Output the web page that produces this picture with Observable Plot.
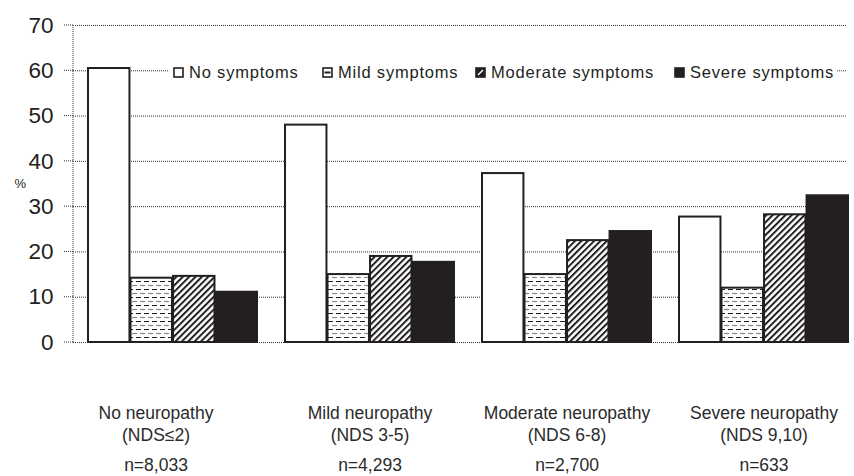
<!DOCTYPE html>
<html>
<head>
<meta charset="utf-8">
<script src="https://cdn.jsdelivr.net/npm/d3@7"></script>
<script src="https://cdn.jsdelivr.net/npm/@observablehq/plot@0.6"></script>
<style>
  html, body { margin: 0; padding: 0; background: #fff; }
  #wrap { position: relative; width: 854px; height: 476px; font-family: "Liberation Sans", Arial, sans-serif; color: #231f20; }
  #legend { position: absolute; left: 168px; top: 61px; width: 668px; height: 22px; background: #fff;
            font-size: 16.5px; letter-spacing: 0.8px; white-space: nowrap; }
  #legend .item { position: absolute; top: 0; height: 22px; display: flex; align-items: center; }
  #legend svg { margin-right: 5px; }
</style>
</head>
<body>
<svg width="0" height="0" style="position:absolute">
  <defs>
    <pattern id="mildPat" width="8" height="8" patternUnits="userSpaceOnUse">
      <rect width="8" height="8" fill="#fff"/>
      <line x1="0" y1="1.5" x2="5" y2="1.5" stroke="#231f20" stroke-width="1"/>
      <line x1="4" y1="5.5" x2="9" y2="5.5" stroke="#8a8a8a" stroke-width="1.2"/>
      <line x1="-4" y1="5.5" x2="1" y2="5.5" stroke="#8a8a8a" stroke-width="1.2"/>
    </pattern>
    <pattern id="hatchPat" width="4.5" height="4.5" patternUnits="userSpaceOnUse" patternTransform="rotate(45)">
      <rect width="4.5" height="4.5" fill="#fff"/>
      <line x1="1" y1="-1" x2="1" y2="6" stroke="#231f20" stroke-width="2"/>
    </pattern>
  </defs>
</svg>
<div id="wrap">
  <div id="chart"></div>
  <div id="legend"></div>
</div>
<script>
const groups = ["No neuropathy", "Mild neuropathy", "Moderate neuropathy", "Severe neuropathy"];
const groupCodes = ["(NDS≤2)", "(NDS 3-5)", "(NDS 6-8)", "(NDS 9,10)"];
const groupN = ["n=8,033", "n=4,293", "n=2,700", "n=633"];
const series = ["No symptoms", "Mild symptoms", "Moderate symptoms", "Severe symptoms"];
const noSymptoms = [60.5, 48.0, 37.3, 27.7];
const mildSymptoms = [14.2, 15.0, 15.0, 12.0];
const moderateSymptoms = [14.6, 19.0, 22.5, 28.2];
const severeSymptoms = [11.1, 17.7, 24.5, 32.4];
const yTicks = [0, 10, 20, 30, 40, 50, 60, 70];

const values = [noSymptoms, mildSymptoms, moderateSymptoms, severeSymptoms];
const fills = ["#fff", "url(#mildPat)", "url(#hatchPat)", "#231f20"];
const ink = "#231f20";

const xRange = [73, 864];
const band = d3.scaleBand().domain(groups).range(xRange).paddingInner(0.14).paddingOuter(0.07);
const barW = band.bandwidth() / series.length;

const barMarks = series.map((s, k) => Plot.barY(
  groups.map((g, i) => ({group: g, value: values[k][i]})),
  {x: "group", y: "value", fill: fills[k], stroke: ink, strokeWidth: 2,
   insetLeft: k * barW, insetRight: (series.length - 1 - k) * barW}
));

const labelRows = groups.map((g, i) => ({group: g, text: g + "\n" + groupCodes[i], n: groupN[i]}));
const labelStyle = {x: "group", frameAnchor: "bottom", lineAnchor: "middle", fontSize: 17.5, fill: "#2b2b2b"};
const labelMarks = [
  // the first category's labels sit a little left of its bar group in the original
  Plot.text(labelRows.slice(0, 1), {...labelStyle, text: "text", dy: 80, dx: -17, lineHeight: 1.26}),
  Plot.text(labelRows.slice(0, 1), {...labelStyle, text: "n", dy: 123, dx: -17}),
  Plot.text(labelRows.slice(1), {...labelStyle, text: "text", dy: 80, lineHeight: 1.26}),
  Plot.text(labelRows.slice(1), {...labelStyle, text: "n", dy: 123})
];

const chart = Plot.plot({
  width: 854,
  height: 476,
  marginLeft: 73,
  marginRight: 8,
  marginTop: 25,
  marginBottom: 134,
  style: {fontFamily: "'Liberation Sans', Arial, sans-serif", color: ink, background: "#fff"},
  x: {domain: groups, range: xRange, paddingInner: 0.14, paddingOuter: 0.07, axis: null},
  y: {domain: [0, 70], axis: null},
  marks: [
    Plot.ruleY(yTicks, {stroke: "#333", strokeDasharray: "1,1", strokeWidth: 1}),
    ...barMarks,
    Plot.text(yTicks, {y: d => d, frameAnchor: "left", dx: -20, textAnchor: "end", fontSize: 22.5, fill: ink, text: d => String(d)}),
    Plot.text(["%"], {frameAnchor: "left", dx: -59, fontSize: 13, fill: ink, text: d => d}),
    ...labelMarks
  ]
});
document.getElementById("chart").appendChild(chart);

// y-axis line and tick stubs, positioned with the chart's own y scale
const yScale = chart.scale("y");
const svg = d3.select(chart);
svg.append("line")
  .attr("x1", 73).attr("x2", 73)
  .attr("y1", yScale.apply(0)).attr("y2", yScale.apply(70))
  .attr("stroke", "#777").attr("stroke-dasharray", "1,1").attr("stroke-width", 1.5);
svg.selectAll("line.ytick").data(yTicks).join("line")
  .attr("class", "ytick")
  .attr("x1", 64).attr("x2", 73)
  .attr("y1", d => yScale.apply(d)).attr("y2", d => yScale.apply(d))
  .attr("stroke", "#333").attr("stroke-dasharray", "1,1");

// legend (item left offsets relative to the legend box)
const legendLeft = [5, 154, 307, 506];
const swatches = [
  `<rect x="1" y="1" width="9" height="9" fill="#fff" stroke="${ink}" stroke-width="1.6"/>`,
  `<rect x="1" y="1" width="9" height="9" fill="#fff" stroke="${ink}" stroke-width="1.6"/><rect x="2.5" y="4.5" width="6" height="2" fill="${ink}"/>`,
  `<rect x="1" y="1" width="9" height="9" fill="${ink}" stroke="${ink}" stroke-width="1.6"/><line x1="3" y1="8" x2="8" y2="3" stroke="#fff" stroke-width="1.4"/>`,
  `<rect x="1" y="1" width="9" height="9" fill="${ink}" stroke="${ink}" stroke-width="1.6"/>`
];
const legend = document.getElementById("legend");
series.forEach((s, k) => {
  const item = document.createElement("div");
  item.className = "item";
  item.style.left = legendLeft[k] + "px";
  item.innerHTML = `<svg width="11" height="11">${swatches[k]}</svg><span>${s}</span>`;
  legend.appendChild(item);
});
</script>
</body>
</html>
